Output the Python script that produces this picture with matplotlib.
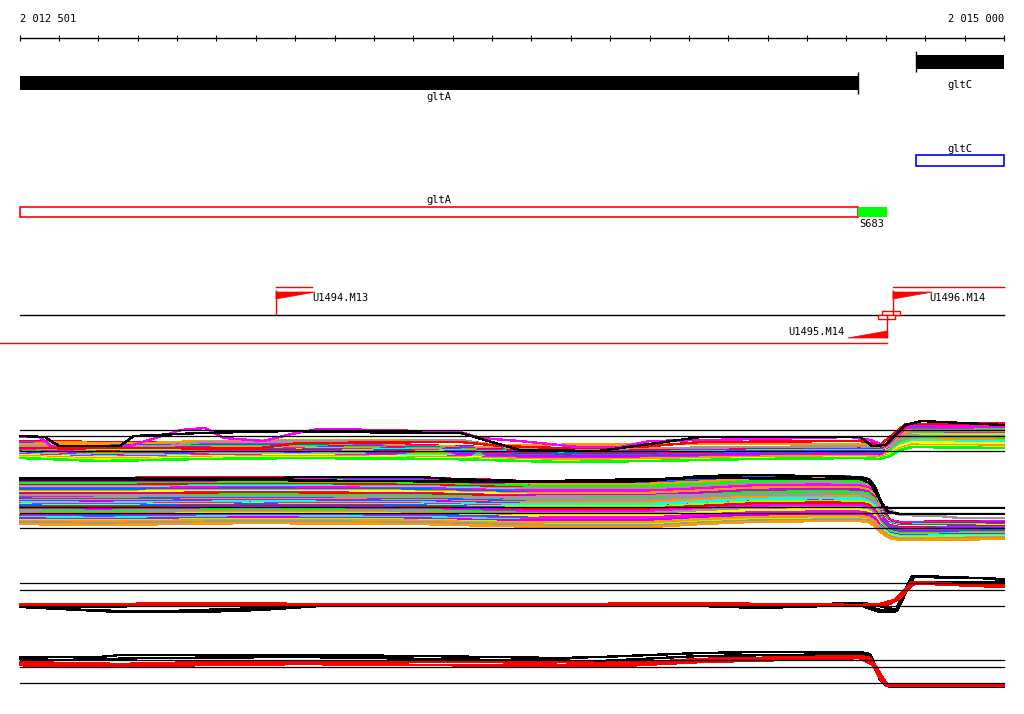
import numpy as np
import matplotlib
matplotlib.use("Agg")
import matplotlib.pyplot as plt
from matplotlib.patches import Rectangle, Polygon

plt.rcParams['font.family'] = ['DejaVu Sans Mono']
FS = 7.5

# region shown (bp)
view_start = 2012501
view_end = 2015000
tick_pos = list(range(2012500, 2015001, 100))

# genes: name, start, end, row top
gene_names = ["gltA", "gltC"]
gene_starts = [2012501, 2014777]
gene_ends = [2014629, 2015000]

# annotated features
s683_start, s683_end = 2014629, 2014703

# promoters: name, position, strand
prom_names = ["U1494.M13", "U1496.M14", "U1495.M14"]
prom_pos = [2013151, 2014718, 2014703]
prom_strand = ["+", "+", "-"]
prom_line_start = [2013151, 2014718, 2012450]
prom_line_end = [2013243, 2015000, 2014703]

# expression tracks: y of the three guide lines per panel
guide_levels = [[430, 436, 451], [507, 513, 528], [583, 590, 606], [660, 667, 683]]

# ---- panel 1 bulk envelope ----
p1_x = [2012501, 2012704, 2012958, 2013212, 2013593, 2013872, 2014101, 2014355,
        2014634, 2014685, 2014710, 2014736, 2014766, 2015000]
p1_top = [441, 442, 443, 443, 446, 449, 448, 447, 447, 447, 444, 432, 424, 424]
p1_bot = [458, 461, 459, 458, 459, 462, 461, 459, 458, 459, 456, 450, 447, 448]
p1_seg = [0, 0, 0, 0, 0, 1, 1, 1, 1, 1, 2, 2, 2, 2]
p1_fa = [0.00, 0.05, 0.08, 0.12, 0.15, 0.20, 0.22, 0.27, 0.30, 0.34, 0.38, 0.41, 0.45,
         0.48, 0.52, 0.55, 0.60, 0.63, 0.67, 0.71, 0.74, 0.79, 0.83, 0.88, 0.93, 1.00]
p1_fb = [0.04, 0.02, 0.12, 0.09, 0.20, 0.16, 0.28, 0.24, 0.35, 0.31, 0.42, 0.37, 0.50,
         0.46, 0.56, 0.53, 0.64, 0.60, 0.71, 0.68, 0.79, 0.75, 0.86, 0.82, 0.95, 1.00]
p1_fc = [0.00, 0.10, 0.05, 0.18, 0.14, 0.26, 0.22, 0.33, 0.30, 0.41, 0.37, 0.47, 0.44,
         0.55, 0.51, 0.62, 0.58, 0.69, 0.66, 0.76, 0.72, 0.83, 0.80, 0.90, 0.96, 1.00]
p1_colors = ['#ff0000', '#ff9900', '#ff00ff', '#999999', '#0066ff', '#ff0000', '#00ff00',
             '#cc00ff', '#ff9900', '#00ffff', '#ff00ff', '#0066ff', '#99ff00', '#ff0000',
             '#999999', '#ff00ff', '#00ff00', '#0066ff', '#ff9900', '#cc00ff', '#00ffff',
             '#ff00ff', '#ffff00', '#ff9900', '#ccff00', '#00ff00']

# panel 1 outliers
p1o_black_x = [2012501, 2012564, 2012600, 2012755, 2012790, 2012960, 2013190, 2013290, 2013620,
               2013770, 2013970, 2014100, 2014230, 2014635, 2014665, 2014700, 2014750, 2014790, 2015000]
p1o_black_y = [436, 437, 446, 446, 436, 433, 431, 432, 433, 450, 451, 444, 437, 437, 446, 445, 425, 421, 425]
p1o_mag_x = [2012501, 2012550, 2012580, 2012780, 2012910, 2012970, 2013020, 2013120, 2013190, 2013260,
             2013415, 2013620, 2013670, 2013770, 2013920, 2014025, 2014100, 2014380, 2014610, 2014660,
             2014700, 2014750, 2015000]
p1o_mag_y = [437, 437, 446, 446, 430, 428, 438, 441, 434, 429, 430, 432, 438, 441, 447, 447, 441,
             439, 437, 440, 446, 428, 427]
p1o_gray_x = [2012501, 2012880, 2012960, 2013415, 2013620, 2013720, 2013870, 2014635, 2014710, 2014765, 2015000]
p1o_gray_y = [446, 446, 442, 441, 440, 446, 449, 446, 446, 432, 430]
p1o_red_x = [2012501, 2013110, 2013210, 2013620, 2013720, 2013870, 2014075, 2014230, 2014635,
             2014685, 2014750, 2015000]
p1o_red_y = [448, 448, 443, 442, 446, 448, 447, 442, 441, 445, 424, 423]
p1o_orange_x = [2012501, 2012830, 2012960, 2013290, 2013620, 2013720, 2014230, 2014635, 2014700, 2014765, 2015000]
p1o_orange_y = [444, 443, 441, 440, 441, 445, 444, 444, 444, 428, 427]

# ---- panel 2 bulk envelope ----
p2_x = [2012501, 2012704, 2013085, 2013517, 2013720, 2013872, 2014101, 2014228, 2014355,
        2014533, 2014634, 2014655, 2014672, 2014693, 2014710, 2014736, 2015000]
p2_top = [478, 478, 477, 478, 480, 482, 482, 480, 477, 476, 477, 479, 486, 510, 520, 522, 521]
p2_bot = [524, 525, 523, 524, 526, 527, 527, 524, 522, 521, 521, 522, 526, 534, 538, 540, 539]
p2_seg = [0, 0, 0, 0, 0, 1, 1, 1, 1, 1, 1, 1, 1, 2, 2, 2, 2]
p2_fa = [0.00, 0.02, 0.05, 0.07, 0.10, 0.12, 0.15, 0.18, 0.20, 0.22, 0.25, 0.28, 0.30, 0.33,
         0.35, 0.38, 0.41, 0.43, 0.45, 0.48, 0.50, 0.53, 0.56, 0.58, 0.60, 0.63, 0.65, 0.68,
         0.70, 0.73, 0.76, 0.78, 0.80, 0.83, 0.85, 0.88, 0.91, 0.93, 0.96, 1.00]
p2_fb = [0.02, 0.00, 0.06, 0.04, 0.11, 0.09, 0.16, 0.14, 0.21, 0.19, 0.27, 0.24, 0.31, 0.29,
         0.36, 0.34, 0.42, 0.39, 0.47, 0.44, 0.52, 0.49, 0.57, 0.55, 0.62, 0.59, 0.67, 0.64,
         0.72, 0.69, 0.77, 0.74, 0.82, 0.79, 0.87, 0.84, 0.92, 0.89, 0.97, 1.00]
p2_fc = [0.00, 0.05, 0.03, 0.09, 0.07, 0.14, 0.11, 0.18, 0.16, 0.23, 0.20, 0.27, 0.25, 0.32,
         0.29, 0.37, 0.34, 0.42, 0.39, 0.46, 0.44, 0.51, 0.49, 0.56, 0.53, 0.61, 0.58, 0.66,
         0.63, 0.71, 0.68, 0.76, 0.73, 0.81, 0.78, 0.86, 0.84, 0.91, 0.95, 1.00]
p2_colors = ['#ff0000', '#0066ff', '#ff00ff', '#ff9900', '#cc00ff', '#00ff00', '#ff0000',
             '#999999', '#00ffff', '#ff00ff', '#0066ff', '#ff9900', '#ffff00', '#cc00ff',
             '#ff0000', '#00ff00', '#ff00ff', '#999999', '#0066ff', '#ff9900', '#cc00ff',
             '#00ffff', '#ff00ff', '#99ff00', '#0066ff', '#ff0000', '#cc00ff', '#ff00ff',
             '#00ff00', '#999999', '#ff9900', '#ffff00', '#0066ff', '#ff00ff', '#00ffff',
             '#cc00ff', '#99ff00', '#ff9900', '#999999', '#ff9900']

# panel 2 outliers
p2o_black1_x = [2012501, 2013161, 2013212, 2013517, 2013593, 2013872, 2013974, 2014101, 2014228,
                2014380, 2014634, 2014655, 2014672, 2014693, 2014710, 2015000]
p2o_black1_y = [478, 478, 477, 477, 479, 482, 482, 481, 476, 475, 477, 479, 486, 507, 508, 508]
p2o_black2_x = [2012501, 2013085, 2013720, 2014228, 2014634, 2014660, 2014685, 2014705, 2014736, 2015000]
p2o_black2_y = [480, 480, 482, 478, 479, 483, 500, 512, 514, 514]
p2o_gray_x = [2012501, 2013720, 2014634, 2014685, 2014736, 2014837, 2014888, 2015000]
p2o_gray_y = [495, 497, 494, 505, 515, 516, 518, 518]

# ---- panel 3 (red / black) ----
p3_black = [
    ([2012501, 2012552, 2012603, 2012755, 2012780, 2013035, 2013212, 2013288, 2014533, 2014634,
      2014660, 2014728, 2014749, 2014766, 2014863, 2015000],
     [605, 606, 607, 607, 606, 606, 605, 604, 604, 603, 604, 610, 590, 576, 577, 579]),
    ([2012501, 2012603, 2012755, 2012882, 2013035, 2013212, 2013288, 2014533, 2014634, 2014660,
      2014685, 2014728, 2014754, 2014771, 2014939, 2015000],
     [606, 609, 611, 611, 609, 607, 605, 605, 604, 607, 610, 611, 590, 577, 578, 580]),
    ([2012501, 2012653, 2012755, 2012958, 2013111, 2013263, 2013974, 2014228, 2014380, 2014634,
      2014660, 2014685, 2014723, 2014743, 2014761, 2015000],
     [607, 610, 612, 612, 610, 606, 605, 606, 608, 605, 609, 612, 612, 595, 582, 582]),
]
p3_red = [
    ([2012501, 2012755, 2013009, 2013212, 2013974, 2014101, 2014228, 2014380, 2014634, 2014685,
      2014723, 2014749, 2014766, 2014837, 2014939, 2015000],
     [604, 604, 603, 604, 604, 603, 603, 604, 605, 604, 600, 590, 582, 583, 586, 587]),
    ([2012501, 2012704, 2013212, 2014025, 2014634, 2014698, 2014736, 2014761, 2014771, 2014863, 2015000],
     [605, 605, 605, 605, 606, 606, 598, 586, 583, 585, 586]),
    ([2012501, 2012958, 2013720, 2014634, 2014685, 2014710, 2014743, 2014774, 2015000],
     [606, 604, 605, 605, 605, 604, 594, 583, 585]),
]

# ---- panel 4 (red / black) ----
p4_black = [
    ([2012501, 2012704, 2012755, 2012958, 2013212, 2013517, 2013872, 2013974, 2014101, 2014228,
      2014380, 2014634, 2014660, 2014672, 2014685, 2014698, 2014710, 2015000],
     [657, 657, 655, 655, 655, 656, 658, 657, 655, 653, 652, 652, 654, 665, 680, 685, 686, 685]),
    ([2012501, 2012603, 2012831, 2013212, 2013720, 2013974, 2014228, 2014634, 2014665, 2014680,
      2014698, 2014710, 2015000],
     [659, 660, 658, 657, 660, 661, 656, 654, 658, 672, 684, 687, 687]),
]
p4_red = [
    ([2012501, 2012552, 2012653, 2012831, 2013212, 2013720, 2013872, 2014025, 2014228, 2014634,
      2014660, 2014680, 2014698, 2014715, 2015000],
     [663, 665, 666, 663, 662, 662, 665, 664, 659, 656, 658, 670, 683, 686, 685]),
    ([2012501, 2012603, 2012755, 2013212, 2013872, 2013974, 2014228, 2014634, 2014667, 2014685,
      2014703, 2015000],
     [665, 667, 666, 664, 666, 667, 662, 658, 665, 678, 686, 686]),
    ([2012501, 2012603, 2012755, 2013212, 2013872, 2013974, 2014228, 2014634, 2014667, 2014685,
      2014703, 2015000],
     [662, 663, 664, 662, 662, 663, 660, 657, 662, 674, 684, 684]),
]

# ------------------------------------------------------------
fig = plt.figure(figsize=(10.24, 7.14), dpi=100)
ax = fig.add_axes([0, 0, 1, 1])
bp_per_px = (view_end - view_start) / 984
ax.set_xlim(view_start - 20 * bp_per_px, view_end + 20 * bp_per_px)
ax.set_ylim(714, 0)
ax.axis('off')

# ruler
ax.plot([view_start, view_end], [38, 38], color='black', lw=1)
ax.vlines(tick_pos, 35, 41, color='black', lw=0.8)
ax.text(view_start, 19, "2 012 501", ha='left', va='center', fontsize=FS)
ax.text(view_end, 19, "2 015 000", ha='right', va='center', fontsize=FS)

# gene bars
ax.add_patch(Rectangle((gene_starts[0], 76), gene_ends[0] - gene_starts[0], 14, fc='black', ec='none'))
ax.add_patch(Rectangle((gene_starts[1], 55), gene_ends[1] - gene_starts[1], 14, fc='black', ec='none'))
ax.vlines(gene_ends[0], 72, 94, color='black', lw=1)
ax.vlines(gene_starts[1], 51, 72, color='black', lw=1)
ax.text((gene_starts[0] + gene_ends[0]) / 2, 97, gene_names[0], ha='center', va='center', fontsize=FS)
ax.text((gene_starts[1] + gene_ends[1]) / 2, 85, gene_names[1], ha='center', va='center', fontsize=FS)

# annotation boxes
ax.add_patch(Rectangle((gene_starts[1], 155), gene_ends[1] - gene_starts[1], 11, fc='white', ec='#0000ff', lw=1.2))
ax.text((gene_starts[1] + gene_ends[1]) / 2, 149, gene_names[1], ha='center', va='center', fontsize=FS)
ax.add_patch(Rectangle((gene_starts[0], 207), gene_ends[0] - gene_starts[0], 10, fc='white', ec='#ff0000', lw=1.2))
ax.text((gene_starts[0] + gene_ends[0]) / 2, 200, gene_names[0], ha='center', va='center', fontsize=FS)
ax.add_patch(Rectangle((s683_start, 207), s683_end - s683_start, 10, fc='#00ff00', ec='none'))
ax.text(s683_start + 3, 224, "S683", ha='left', va='center', fontsize=FS)

# promoter track
ax.plot([view_start, view_end], [315, 315], color='black', lw=1)
for name, p, s, l0, l1 in zip(prom_names, prom_pos, prom_strand, prom_line_start, prom_line_end):
    if s == "+":
        ax.plot([l0, l1], [287, 287], color='red', lw=1)
        ax.vlines(p, 290, 315, color='red', lw=1)
        ax.add_patch(Polygon([(p, 292), (p + 100, 292), (p, 299)], closed=True, fc='red', ec='red', lw=0.5))
        ax.text(p + 93, 298, name, ha='left', va='center', fontsize=FS)
    else:
        ax.plot([l0, l1], [343, 343], color='red', lw=1)
        ax.vlines(p, 315, 338, color='red', lw=1)
        ax.add_patch(Polygon([(p, 338), (p - 100, 338), (p, 331)], closed=True, fc='red', ec='red', lw=0.5))
        ax.text(p - 107, 332, name, ha='right', va='center', fontsize=FS)
ax.add_patch(Rectangle((2014690, 311), 46, 4, fc='white', ec='red', lw=1, zorder=3))
ax.add_patch(Rectangle((2014680, 315), 43, 4, fc='white', ec='red', lw=1, zorder=3))
ax.vlines(2014718, 311, 315, color='red', lw=1, zorder=4)
ax.vlines(2014703, 315, 319, color='red', lw=1, zorder=4)


def draw_band(xs, top, bot, seg, fa, fb, fc, colors):
    top = np.array(top, dtype=float)
    bot = np.array(bot, dtype=float)
    for i in range(len(fa)):
        f = np.array([(fa[i], fb[i], fc[i])[s] for s in seg])
        ax.plot(xs, top + f * (bot - top), color=colors[i % len(colors)], lw=1.1,
                antialiased=False)


draw_band(p1_x, p1_top, p1_bot, p1_seg, p1_fa, p1_fb, p1_fc, p1_colors)
ax.plot(p1o_orange_x, p1o_orange_y, color='#ff9900', lw=1, antialiased=False)
ax.plot(p1o_gray_x, p1o_gray_y, color='#999999', lw=1, antialiased=False)
ax.plot(p1o_red_x, p1o_red_y, color='#ff0000', lw=1, antialiased=False)
ax.plot(p1o_mag_x, p1o_mag_y, color='#ff00ff', lw=1, antialiased=False)
ax.plot(p1o_black_x, p1o_black_y, color='black', lw=1, antialiased=False)

draw_band(p2_x, p2_top, p2_bot, p2_seg, p2_fa, p2_fb, p2_fc, p2_colors)
ax.plot(p2o_gray_x, p2o_gray_y, color='#999999', lw=1, antialiased=False)
ax.plot(p2o_black2_x, p2o_black2_y, color='black', lw=1, antialiased=False)
ax.plot(p2o_black1_x, p2o_black1_y, color='black', lw=1, antialiased=False)

for xs, ys in p3_black + p4_black:
    ax.plot(xs, ys, color='black', lw=1, antialiased=False)
for xs, ys in p3_red + p4_red:
    ax.plot(xs, ys, color='red', lw=1.2, antialiased=False)

for levels in guide_levels:
    for lv in levels:
        ax.plot([view_start, view_end], [lv, lv], color='black', lw=0.9, zorder=5)

fig.savefig("out.png", dpi=100, facecolor='white')
